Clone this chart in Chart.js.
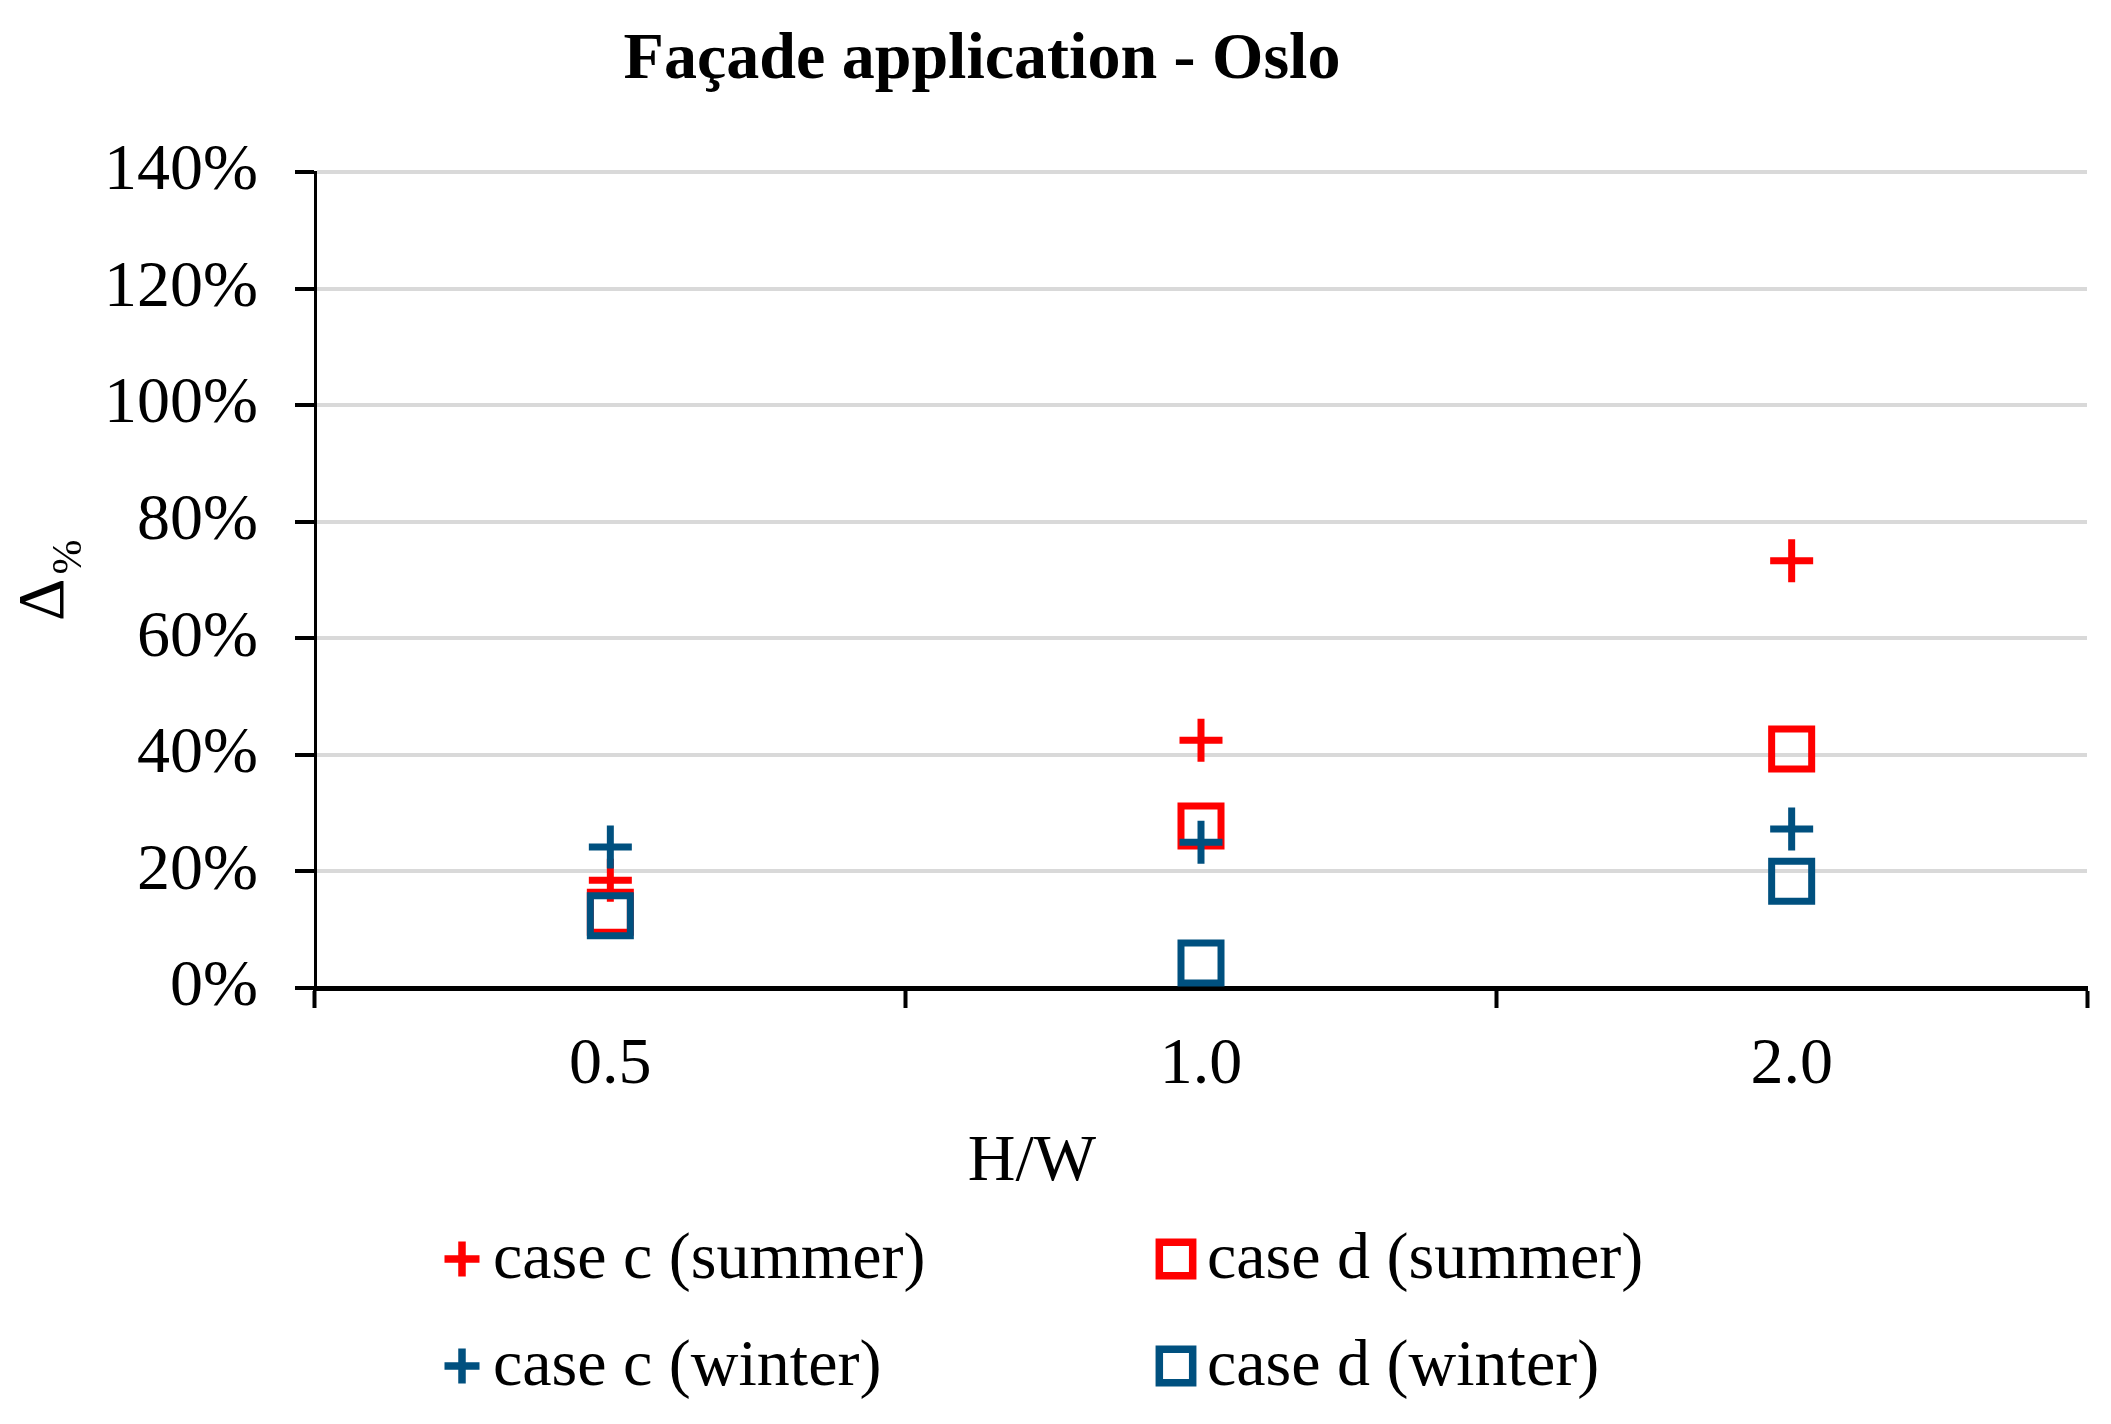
<!DOCTYPE html>
<html>
<head>
<meta charset="utf-8">
<title>Façade application - Oslo</title>
<script src="https://cdn.jsdelivr.net/npm/chart.js@4.4.1/dist/chart.umd.min.js"></script>
<style>
  html, body { margin: 0; padding: 0; background: #fff; }
  #wrap { width: 2111px; height: 1424px; }
</style>
</head>
<body>
<div id="wrap"><canvas id="myChart" width="2111" height="1424"></canvas></div>
<script>

/* =====================
  data
===================== */

var categories = ['0.5', '1.0', '2.0'];

var caseCSummer = [18.5, 42.5, 73.3];
var caseDSummer = [13.0, 27.8, 41.0];
var caseCWinter = [24.2, 25.0, 27.3];
var caseDWinter = [12.4, 4.3, 18.3];

var yTicks = [0, 20, 40, 60, 80, 100, 120, 140];

var RED = '#FF0000';
var BLUE = '#00507F';
var FONT = '"Liberation Serif", "Times New Roman", serif';

/* =====================
  titles + legend (drawn by hand, Excel-like placement)
===================== */

var extraText = {
	id: 'extraText',
	afterDraw: function(chart) {
		var ctx = chart.ctx;
		ctx.save();
		ctx.fillStyle = '#000';

		// title
		ctx.font = 'bold 66px ' + FONT;
		ctx.textAlign = 'center';
		ctx.textBaseline = 'alphabetic';
		ctx.fillText('Façade application - Oslo', 982, 78);

		// x axis title
		ctx.font = '66px ' + FONT;
		ctx.fillText('H/W', 1032, 1180);

		// y axis title : Δ with subscript %
		ctx.save();
		ctx.translate(63, 621);
		ctx.rotate(-Math.PI / 2);
		ctx.textAlign = 'left';
		ctx.font = '66px ' + FONT;
		ctx.fillText('Δ', 0, 0);
		var w = ctx.measureText('Δ').width;
		ctx.font = '42px ' + FONT;
		ctx.fillText('%', w + 4, 18);
		ctx.restore();

		// legend, 2 columns
		var cols = [462, 1176];
		var rows = [1259, 1366];
		chart.data.datasets.forEach(function(ds, i) {
			var cx = cols[ds.legendPos[0]];
			var cy = rows[ds.legendPos[1]];
			ctx.strokeStyle = ds.borderColor;
			ctx.fillStyle = 'rgba(0,0,0,0)';
			ctx.lineWidth = 7.5;
			Chart.helpers.drawPoint(ctx, {
				pointStyle: ds.pointStyle,
				radius: ds.pointStyle === 'cross' ? 17.5 : 23.6,
				borderWidth: 7.5,
				rotation: 0
			}, cx, cy);
			ctx.fillStyle = '#000';
			ctx.font = '66px ' + FONT;
			ctx.textAlign = 'left';
			ctx.textBaseline = 'middle';
			ctx.fillText(ds.label, cx + 31, cy + 2);
		});
		ctx.restore();
	}
};

/* =====================
  chart
===================== */

var config = {
	type: 'line',
	data: {
		labels: categories,
		datasets: [{
			label: 'case c (summer)',
			data: caseCSummer,
			pointStyle: 'cross',
			borderColor: RED,
			backgroundColor: RED,
			pointRadius: 21.5,
			pointBorderWidth: 7,
			order: 4,
			legendPos: [0, 0]
		}, {
			label: 'case d (summer)',
			data: caseDSummer,
			pointStyle: 'rect',
			borderColor: RED,
			backgroundColor: 'rgba(0,0,0,0)',
			pointRadius: 28.3,
			pointBorderWidth: 7,
			order: 3,
			legendPos: [1, 0]
		}, {
			label: 'case c (winter)',
			data: caseCWinter,
			pointStyle: 'cross',
			borderColor: BLUE,
			backgroundColor: BLUE,
			pointRadius: 21.5,
			pointBorderWidth: 7,
			order: 2,
			legendPos: [0, 1]
		}, {
			label: 'case d (winter)',
			data: caseDWinter,
			pointStyle: 'rect',
			borderColor: BLUE,
			backgroundColor: 'rgba(0,0,0,0)',
			pointRadius: 28.3,
			pointBorderWidth: 7,
			order: 1,
			legendPos: [1, 1]
		}]
	},
	options: {
		responsive: false,
		animation: false,
		showLine: false,
		layout: {
			autoPadding: false,
			padding: { top: 172, right: 24, bottom: 0, left: 0 }
		},
		plugins: {
			legend: { display: false },
			title: { display: false },
			tooltip: { enabled: false }
		},
		scales: {
			x: {
				type: 'category',
				offset: true,
				grid: {
					offset: true,
					drawOnChartArea: false,
					drawTicks: true,
					tickLength: 20,
					tickWidth: 4,
					tickColor: '#000'
				},
				border: { color: '#000', width: 5 },
				ticks: {
					color: '#000',
					padding: 18,
					font: { family: FONT, size: 66 }
				},
				afterFit: function(scale) {
					scale.height = 436;
					scale.paddingLeft = 0;
					scale.paddingRight = 0;
				}
			},
			y: {
				min: 0,
				max: 140,
				afterBuildTicks: function(scale) {
					scale.ticks = yTicks.map(function(v) { return { value: v }; });
				},
				grid: {
					color: '#D9D9D9',
					lineWidth: 4,
					tickLength: 20,
					tickWidth: 4,
					tickColor: '#000'
				},
				border: { color: '#000', width: 3 },
				ticks: {
					color: '#000',
					padding: 37,
					font: { family: FONT, size: 66 },
					callback: function(v) { return v + '%'; }
				},
				afterFit: function(scale) { scale.width = 315; }
			}
		}
	},
	plugins: [extraText]
};

var can = document.getElementById('myChart');
var ctx = can.getContext('2d');
var myChart = new Chart(ctx, config);
</script>
</body>
</html>
